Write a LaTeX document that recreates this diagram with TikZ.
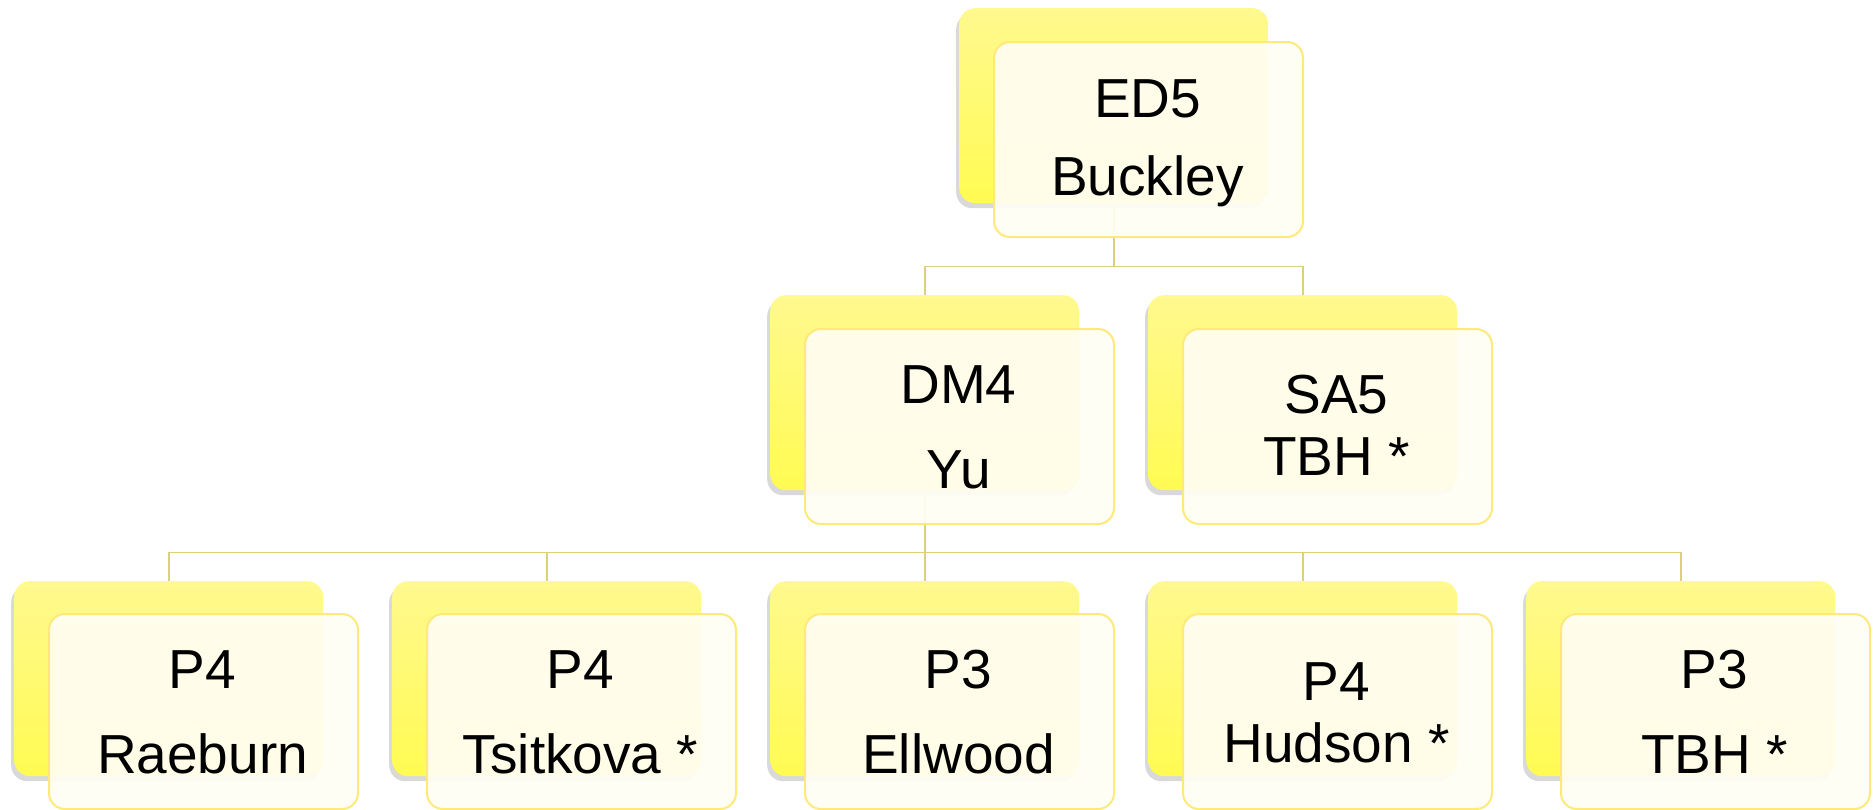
\documentclass[tikz,border=0pt]{standalone}
\usepackage{fontspec}
\setmainfont{Liberation Sans}
\usetikzlibrary{shadows}
\definecolor{backtop}{HTML}{FFF98F}
\definecolor{backbot}{HTML}{FFFB52}
\definecolor{frontfill}{HTML}{FFFEF3}
\definecolor{frontedge}{HTML}{FFE97A}
\definecolor{connc}{HTML}{DCD078}
\tikzset{
 backbox/.style={rectangle, rounded corners=16pt, minimum width=309pt, minimum height=195pt, inner sep=0pt, anchor=north west, top color=backtop, bottom color=backbot, draw=none, drop shadow={shadow xshift=-3pt, shadow yshift=-5pt, opacity=0.3, fill=black!50}},
 frontbox/.style={rectangle, rounded corners=16pt, minimum width=309pt, minimum height=195pt, inner sep=0pt, anchor=north west, fill=frontfill, fill opacity=0.93, draw=frontedge, draw opacity=1, line width=2pt},
 lbl/.style={anchor=base, inner sep=0pt, font=\fontsize{55}{66}\selectfont, text=black},
 conn/.style={draw=connc, line width=1.8pt}
}
\begin{document}
\begin{tikzpicture}[x=1pt,y=-1pt]
\useasboundingbox (0,0) rectangle (1873,809);
% back boxes
\node[backbox] (ed5b) at (959,8) {};
\node[backbox] (dm4b) at (770,295) {};
\node[backbox] (sa5b) at (1148,295) {};
\node[backbox] (p1b) at (14,581) {};
\node[backbox] (p2b) at (392,581) {};
\node[backbox] (p3b) at (770,581) {};
\node[backbox] (p4b) at (1148,581) {};
\node[backbox] (p5b) at (1526,581) {};
% connectors
\path (ed5b.south) ++(0,63) coordinate (bus1);
\draw[conn] (ed5b.south) -- (bus1);
\draw[conn] (dm4b.north) |- (bus1) -| (sa5b.north);
\path (dm4b.south) ++(0,62) coordinate (bus2);
\draw[conn] (dm4b.south) -- (bus2);
\draw[conn] (p1b.north) |- (bus2) -| (p5b.north);
\draw[conn] (p2b.north) -- (p2b.north |- bus2);
\draw[conn] (p3b.north) -- (p3b.north |- bus2);
\draw[conn] (p4b.north) -- (p4b.north |- bus2);
% front boxes
\node[frontbox] (ed5f) at (993,41) {};
\node[frontbox] (dm4f) at (804,328) {};
\node[frontbox] (sa5f) at (1182,328) {};
\node[frontbox] (p1f) at (48,613) {};
\node[frontbox] (p2f) at (426,613) {};
\node[frontbox] (p3f) at (804,613) {};
\node[frontbox] (p4f) at (1182,613) {};
\node[frontbox] (p5f) at (1560,613) {};
% labels
\node[lbl] (ed5t1) at (1147.5,117) {ED5};
\node[lbl] (ed5t2) at (1147.5,195) {Buckley};
\node[lbl] (dm4t1) at (958.5,403) {DM4};
\node[lbl] (dm4t2) at (958.5,488) {Yu};
\node[lbl] (sa5t1) at (1336.5,413) {SA5};
\node[lbl] (sa5t2) at (1336.5,475) {TBH *};
\node[lbl] (p1t1) at (202.5,688) {P4};
\node[lbl] (p1t2) at (202.5,773) {Raeburn};
\node[lbl] (p2t1) at (580.5,688) {P4};
\node[lbl] (p2t2) at (580.5,773) {Tsitkova *};
\node[lbl] (p3t1) at (958.5,688) {P3};
\node[lbl] (p3t2) at (958.5,773) {Ellwood};
\node[lbl] (p4t1) at (1336.5,700) {P4};
\node[lbl] (p4t2) at (1336.5,762) {Hudson *};
\node[lbl] (p5t1) at (1714.5,688) {P3};
\node[lbl] (p5t2) at (1714.5,773) {TBH *};
\end{tikzpicture}
\end{document}
